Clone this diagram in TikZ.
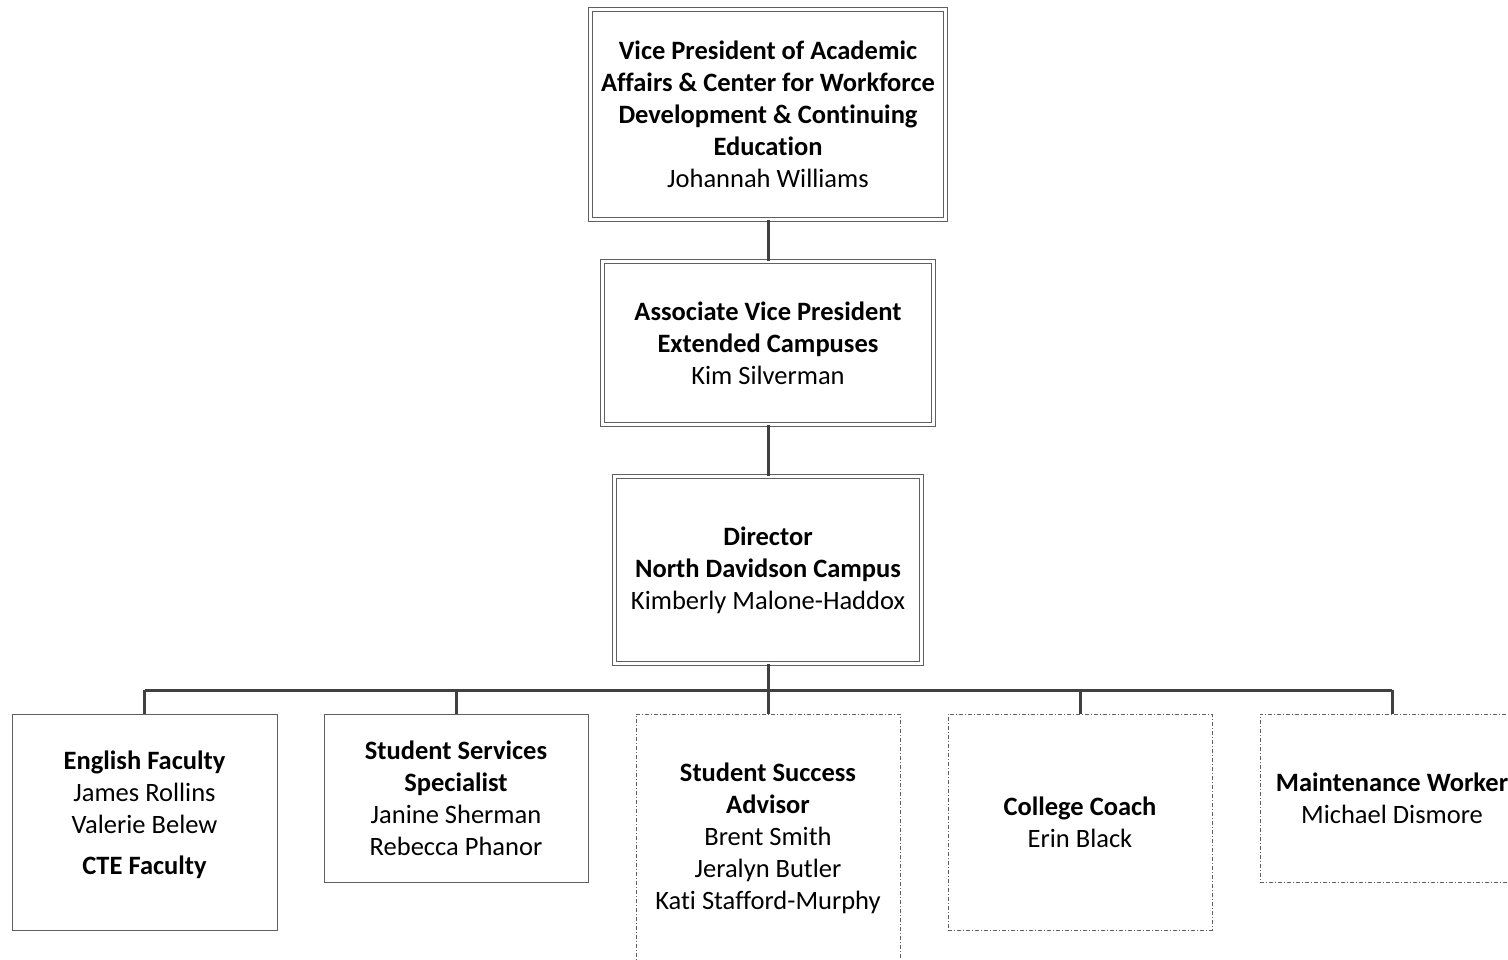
\documentclass[tikz,border=0pt]{standalone}
\usepackage{fontspec}
\setmainfont[Ligatures=NoCommon,RawFeature=-liga]{Carlito}
\definecolor{boxgray}{HTML}{606060}
\definecolor{linegray}{HTML}{404040}
\tikzset{
  base/.style={inner sep=0pt, align=center, font=\fontsize{26.5}{32}\selectfont, text=black},
  dblbox/.style={base, draw=boxgray, line width=0.9pt, double=white, double distance=3pt},
  solidbox/.style={base, draw=boxgray, line width=1pt},
  dashbox/.style={base, draw=boxgray, line width=0.9pt, dash pattern=on 4pt off 2pt on 1pt off 2pt},
  conn/.style={draw=linegray, line width=3pt}
}
\begin{document}
\begin{tikzpicture}[x=1pt,y=-1pt]
\useasboundingbox (0,0) rectangle (1508,959);
\node[dblbox, minimum width=355pt, minimum height=210pt] (vp) at (768,114.5)
  {\textbf{Vice President of Academic}\\\textbf{Affairs \& Center for Workforce}\\\textbf{Development \& Continuing}\\\textbf{Education}\\Johannah Williams};
\node[dblbox, minimum width=331pt, minimum height=163pt] (avp) at (768,343)
  {\textbf{Associate Vice President}\\\textbf{Extended Campuses}\\Kim Silverman};
\node[dblbox, minimum width=307pt, minimum height=187pt] (dir) at (768,570)
  {\textbf{Director}\\\textbf{North Davidson Campus}\\Kimberly Malone-Haddox};
\node[solidbox, minimum width=265pt, minimum height=216pt] (eng) at (144.5,822)
  {};
\node[base] (engt) at (144.5,815) {\textbf{English Faculty}\\James Rollins\\Valerie Belew\\[9pt]\textbf{CTE Faculty}};
\node[solidbox, minimum width=264pt, minimum height=168pt] (ssp) at (456,798)
  {\textbf{Student Services}\\\textbf{Specialist}\\Janine Sherman\\Rebecca Phanor};
\node[dashbox, minimum width=264pt, minimum height=250pt] (ssa) at (768,839)
  {};
\node[base] (ssat) at (768,838) {\textbf{Student Success}\\\textbf{Advisor}\\Brent Smith\\Jeralyn Butler\\Kati Stafford-Murphy};
\node[dashbox, minimum width=264pt, minimum height=216pt] (cc) at (1080,822)
  {\textbf{College Coach}\\Erin Black};
\node[dashbox, minimum width=264pt, minimum height=168pt] (mw) at (1392,798)
  {\textbf{Maintenance Worker}\\Michael Dismore};
\coordinate (bus) at (768,690);
\draw[conn] (vp.south) -- (avp.north);
\draw[conn] (avp.south) -- (dir.north);
\draw[conn] (dir.south) -- (ssa.north);
\draw[conn] (eng.north |- bus) -- (mw.north |- bus);
\draw[conn] (eng.north) -- (eng.north |- bus);
\draw[conn] (ssp.north) -- (ssp.north |- bus);
\draw[conn] (cc.north) -- (cc.north |- bus);
\draw[conn] (mw.north) -- (mw.north |- bus);
\end{tikzpicture}
\end{document}
